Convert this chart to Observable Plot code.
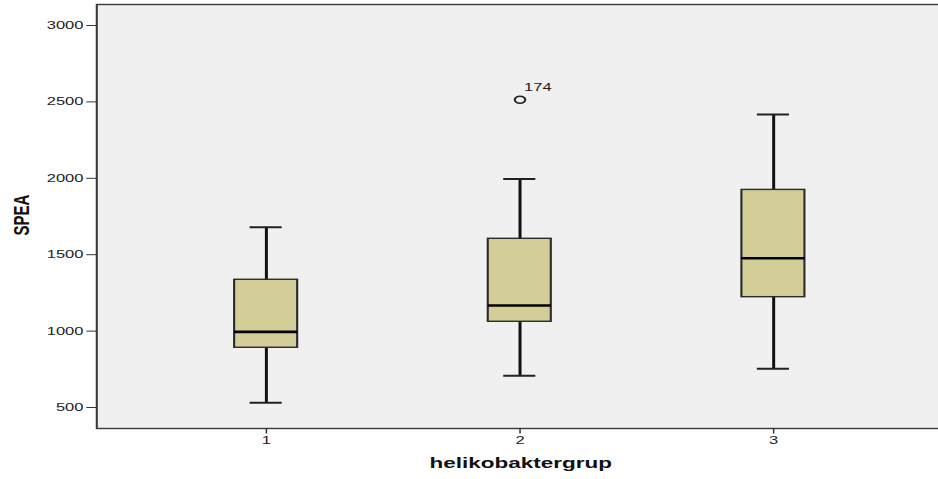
<!DOCTYPE html>
<html>
<head>
<meta charset="utf-8">
<script src="https://cdn.jsdelivr.net/npm/d3@7"></script>
<script src="https://cdn.jsdelivr.net/npm/@observablehq/plot@0.6"></script>
<style>
  html, body { margin: 0; padding: 0; background: #ffffff; overflow: hidden; }
  #chart { width: 938px; height: 479px; }
</style>
</head>
<body>
<div id="chart"></div>
<script>
// ---- data ----
const groups        = ["1", "2", "3"];
const lowerWhisker  = [531, 707, 753];
const q1            = [891, 1061, 1222];
const medians       = [995, 1168, 1477];
const q3            = [1336, 1604, 1924];
const upperWhisker  = [1680, 1995, 2418];
const outlierGroups = ["2"];
const outlierValues = [2514];
const outlierLabels = ["174"];
const yTicks        = [500, 1000, 1500, 2000, 2500, 3000];
const xTitle = "helikobaktergrup";
const yTitle = "SPEA";

const boxes = groups.map((g, i) => ({
  g, lo: lowerWhisker[i], q1: q1[i], med: medians[i], q3: q3[i], hi: upperWhisker[i]
}));
const outliers = outlierGroups.map((g, i) => ({ g, v: outlierValues[i], label: outlierLabels[i] }));

// The reference is horizontally stretched; draw at a narrower width and stretch the SVG.
const W0 = 625, H = 479, OUT_W = 938;

const chart = Plot.plot({
  width: W0,
  height: H,
  marginTop: 4,
  marginBottom: 51,
  marginLeft: 64,
  marginRight: -4,
  style: { background: "#ffffff", fontFamily: "'Liberation Sans', Arial, sans-serif", fontSize: "11px", color: "#222" },
  x: { type: "band", domain: groups, range: [155.3, 537.7], paddingInner: 0.749, paddingOuter: 0, label: null },
  y: { domain: [362.6, 3137.4], label: null },
  marks: [
    Plot.frame({ fill: "#f0f0f0", stroke: "#3a3a3a", strokeWidth: 1.4 }),
    Plot.axisY(yTicks, { tickSize: 6.5, tickPadding: 2.4, fontSize: 11, stroke: "#333", fill: "#222", label: null, tickFormat: d3.format("d") }),
    Plot.axisX({ tickSize: 5.5, tickPadding: 2.5, fontSize: 11, stroke: "#333", fill: "#222", label: null }),
    // whiskers
    Plot.ruleX(boxes, { x: "g", y1: "lo", y2: "q1", stroke: "#111", strokeWidth: 2 }),
    Plot.ruleX(boxes, { x: "g", y1: "q3", y2: "hi", stroke: "#111", strokeWidth: 2 }),
    Plot.tickY(boxes, { x: "g", y: "lo", stroke: "#222", strokeWidth: 2, insetLeft: 10.3, insetRight: 10.3 }),
    Plot.tickY(boxes, { x: "g", y: "hi", stroke: "#222", strokeWidth: 2, insetLeft: 10.3, insetRight: 10.3 }),
    // boxes
    Plot.barY(boxes, { x: "g", y1: "q1", y2: "q3", fill: "#d3ce98", stroke: "#2a2a2a", strokeWidth: 1.4 }),
    // medians
    Plot.tickY(boxes, { x: "g", y: "med", stroke: "#000", strokeWidth: 2.6 }),
    // outlier
    Plot.dot(outliers, { x: "g", y: "v", r: 3.5, stroke: "#222", strokeWidth: 1.4, fill: "none" }),
    Plot.text(outliers, { x: "g", y: "v", text: "label", dx: 2.7, dy: -12, textAnchor: "start", fontSize: 11, fill: "#222" }),
    // axis titles
    Plot.text([xTitle], { frameAnchor: "bottom", dy: 39, fontSize: 15, fontWeight: "bold", fill: "#111" }),
    Plot.text([yTitle], { frameAnchor: "left", dx: -50, dy: 19, rotate: -90, fontSize: 15, fontWeight: "bold", fill: "#111" })
  ]
});

chart.setAttribute("width", OUT_W);
chart.setAttribute("height", H);
chart.setAttribute("viewBox", `0 0 ${W0} ${H}`);
chart.setAttribute("preserveAspectRatio", "none");
chart.style.width = OUT_W + "px";
chart.style.height = H + "px";
chart.style.maxWidth = "none";
document.getElementById("chart").appendChild(chart);
</script>
</body>
</html>
